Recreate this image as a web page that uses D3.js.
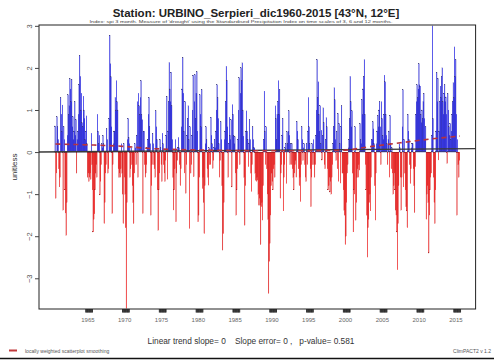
<!DOCTYPE html>
<html>
<head>
<meta charset="utf-8">
<script src="https://cdn.jsdelivr.net/npm/d3@7/dist/d3.min.js"></script>
<style>
  body { margin: 0; background: #fff; }
  svg { display: block; font-family: "Liberation Sans", Arial, sans-serif; }
</style>
</head>
<body>
<svg id="chart" width="494" height="362"></svg>
<script>
// spi 3 mesi, urbino serpieri, valori mensili da dic 1960
const FIRST_YEAR = 1961; // indice 1 = gennaio 1961, indice 0 = dicembre 1960
const spi = [
  0.62,
  -1.1, -0.5, 0.84, 0.6, 0.3, -0.4, -0.83, -0.6, 1.3, 0.9, 0.5, 1.12,        // 1961
  -1.38, 0.6, 0.3, -0.9, -1.45, -1.98, -1.2, 0.4, 1.36, 0.9, 1.1, 1.75,      // 1962
  1.5, 1.2, 1.72, 0.6, 0.84, 0.3, 0.5, 1.2, 0.4, 0.77, -0.5, 0.3,            // 1963
  0.5, 0.9, 1.6, 2.3, 1.8, 1.0, 1.4, 0.7, 0.6, 1.33, 1.0, 0.8,               // 1964
  0.3, 0.5, 0.86, 0.2, -0.6, -0.5, -0.7, -0.6, -0.5, -0.65, 0.45, -0.3,      // 1965
  -0.9, -1.9, -1.6, -1.47, -0.9, -0.5, -0.3, -0.6, 0.9, 0.5, 0.2, 0.4,       // 1966
  -1.02, -0.7, -0.3, 0.2, 0.1, 0.4, 0.2, -1.7, -1.2, -0.5, -0.3, 0.55,       // 1967
  0.3, -0.5, -0.4, 0.8, 2.78, 2.1, 1.79, 0.6, -1.46, -0.3, 0.2, 0.5,         // 1968
  0.5, 1.3, 1.0, 1.7, 1.2, 1.0, -0.4, -0.6, -0.5, -0.6, -0.4, 0.2,           // 1969
  -0.5, -1.0, -1.7, 0.2, -0.6, -1.0, -1.8, -3.72, -1.2, 0.3, 0.8, 0.35,      // 1970
  0.2, -0.6, -0.4, 0.1, -0.3, -0.8, -1.2, -1.7, -0.5, 0.2, 0.1, -0.3,        // 1971
  0.4, 1.2, -0.6, 1.4, 1.1, 0.9, 1.3, 1.7, 0.9, 0.77, -1.46, 0.5,            // 1972
  0.5, -0.3, -0.6, -0.5, -0.3, 0.1, 0.3, 0.9, 1.3, 0.6, 0.2, -1.5,           // 1973
  -0.8, -0.3, 0.45, 0.2, -0.3, -0.4, -0.6, 0.98, 0.6, 0.3, -0.9, -1.86,      // 1974
  -0.9, -0.5, 0.3, 0.1, -0.3, -0.7, 0.45, 0.2, -0.3, -0.5, -0.7, -0.2,       // 1975
  0.4, 1.33, -0.65, 0.5, 1.2, 2.13, 1.5, 1.2, 1.9, 1.1, 0.3, -0.6,           // 1976
  -1.38, -0.9, -0.4, 0.3, -1.66, -0.5, -0.2, 0.1, 0.35, 0.1, -0.3, -0.8,     // 1977
  -0.4, 0.6, 1.5, 2.25, 1.4, 0.5, -0.5, 1.2, -0.98, -0.3, 0.4, 0.8,          // 1978
  1.1, 0.3, -1.82, 0.6, -0.5, -0.3, 0.4, 1.0, 1.83, -0.59, 1.2, 1.84,        // 1979
  0.8, 1.4, 1.91, 0.5, -1.66, -1.5, -0.6, 1.36, 0.9, 0.6, 1.48, -0.87,       // 1980
  -0.6, -1.2, -1.94, -0.8, 0.2, 0.6, 0.3, -0.4, -0.6, -0.79, 0.1, -0.3,      // 1981
  -0.3, 0.83, 0.4, 0.2, -0.39, -0.2, 0.1, 0.3, 0.1, 0.5, 1.0, 1.6,           // 1982
  1.3, 0.8, 0.2, -0.6, -0.2, 0.72, 0.3, -0.8, -2.33, -1.94, -1.2, 0.3,       // 1983
  0.5, 1.2, 2.04, 1.71, 0.6, -0.6, 0.2, 0.83, 0.4, 0.3, 0.77, -0.83,         // 1984
  1.13, 0.9, 0.4, 0.2, 0.36, -0.5, -1.5, -0.9, -0.4, 0.3, 1.0, 1.77,         // 1985
  -0.3, 1.4, 2.0, 1.7, 2.12, 1.0, 0.38, -0.6, -1.74, -0.8, 0.5, 0.98,        // 1986
  0.5, 0.3, -0.35, 0.2, 0.77, 0.3, -0.5, -0.94, -0.3, 0.6, 0.3, 0.1,         // 1987
  0.1, -0.5, -0.67, -0.7, -0.6, -0.67, -1.0, -1.26, -1.1, -1.26, -2.2, -1.3, // 1988
  -1.2, -1.62, -0.8, 0.3, 1.45, 0.5, -0.3, 0.6, -0.4, -1.0, -1.6, -3.36,     // 1989
  -2.6, -2.17, -1.5, -0.8, -0.5, -0.7, -0.9, -0.4, -0.3, -0.6, 1.1, 0.8,     // 1990
  0.3, 0.9, 1.2, 1.7, 0.9, 1.48, -1.1, -0.5, -0.3, 0.4, 0.8, -1.4,           // 1991
  -0.6, -0.3, 0.1, 0.2, -0.75, 0.48, 0.2, 0.5, 0.98, 0.4, -0.3, 0.2,         // 1992
  -0.3, 0.2, -0.4, -0.6, -0.9, -0.5, -0.3, -0.2, -0.6, 0.73, 0.5, 0.3,       // 1993
  -0.4, -0.8, -0.6, -1.18, -0.3, 0.6, 0.3, -0.2, 0.1, 0.2, -0.3, -0.6,       // 1994
  -0.7, 0.2, -0.3, 0.5, 1.3, 0.6, 0.2, -0.4, -1.3, -0.6, 0.2, -0.3,          // 1995
  0.3, -0.3, -0.6, -0.3, 0.4, 1.0, 2.2, 1.3, 1.67, 0.9, 0.5, 1.1,            // 1996
  0.2, 0.52, -0.19, 0.4, 1.05, 0.7, -0.3, -0.4, 0.3, 0.82, 0.6, -0.4,        // 1997
  -0.9, -0.8, -0.6, -0.95, -0.7, -1.0, -0.6, -0.3, 0.2, 0.6, 1.53, 1.24,     // 1998
  0.3, -0.2, 0.5, -0.4, 0.92, -0.7, 0.68, 0.2, -0.74, 0.6, 1.1, -0.5,        // 1999
  -0.5, -0.9, -1.38, -1.5, -2.2, -2.0, -1.2, -0.5, -0.3, 0.1, 0.3, 0.8,      // 2000
  1.8, 1.2, 0.6, 0.98, -0.5, -1.9, -0.9, -1.0, 0.6, -1.62, -1.2, -0.6,       // 2001
  -0.4, -0.6, -0.3, -0.43, 0.68, 0.3, 0.2, 1.25, 0.9, 1.5, 1.8, 2.2,         // 2002
  0.9, -0.3, -0.9, -1.5, -2.5, -1.8, -1.6, -1.2, -1.0, -1.4, -0.6, 0.3,      // 2003
  0.3, 0.72, 0.55, 0.2, -0.8, -1.62, -0.5, 0.2, 0.5, 0.87, 0.6, 1.0,         // 2004
  1.2, 0.6, -0.3, 1.2, 0.8, 0.4, 0.3, 0.9, 1.83, 1.67, 0.9, 0.4,             // 2005
  0.2, -0.3, 0.3, 0.5, -0.6, 0.87, 0.2, -0.4, 0.1, -0.5, -1.0, -0.8,         // 2006
  -0.5, -0.9, -1.38, -1.5, -1.9, -2.8, -1.7, -0.8, 0.2, 0.1, -0.6, -1.38,    // 2007
  -0.6, 0.6, 1.48, -0.83, 0.3, -0.5, -0.9, -1.3, -1.4, -1.8, 0.9, 0.5,       // 2008
  0.3, -0.3, -0.75, -0.4, 0.1, 0.2, 0.2, -0.4, -0.8, -1.44, -0.35, 0.9,      // 2009
  1.2, 1.6, 1.3, 1.5, 2.1, 1.6, 1.57, 0.9, 0.7, 1.0, 0.8, 1.2,               // 2010
  1.4, 0.8, 0.3, 0.6, -1.6, -1.0, -0.8, -1.2, -2.4, -1.5, -0.9, -0.6,        // 2011
  -0.5, 0.4, 3.0, 0.8, -0.6, -1.2, -1.7, -0.9, 0.5, 1.9, 1.2, 1.75,          // 2012
  -0.19, 0.5, 1.2, 1.57, 1.3, 1.8, 2.0, 1.2, 0.9, 1.4, 1.6, 1.2,             // 2013
  1.31, 0.9, -0.27, 1.39, 1.0, 0.6, 0.4, 0.68, 0.3, 0.5, 0.9, 1.2,           // 2014
  1.65, 1.3, 2.5, 1.8, 2.19, 0.9, -1.5, 0.3, -0.3, -0.6, -0.2                // 2015
];

// lowess (tratteggiata) letta a occhio, anni decimali
const lowessYears = [1960.95, 1965.6, 1970.7, 1973.4, 1980.6, 1991.5, 1999.7, 2003.7, 2007.8, 2011.9, 2015.9];
const lowessValues = [0.19, 0.17, 0.13, 0.09, 0.05, 0.03, 0.04, 0.13, 0.22, 0.31, 0.38];

// retta di tendenza lineare: valore al primo e all'ultimo mese
const trendEnds = [0.005, 0.08];

const yearTicks = [1965, 1970, 1975, 1980, 1985, 1990, 1995, 2000, 2005, 2010, 2015];
const yTicks = [-3, -2, -1, 0, 1, 2, 3];

const TITLE = "Station: URBINO_Serpieri_dic1960-2015 [43°N, 12°E]";
const SUBTITLE = "Index: spi 3 month. Measure of 'drought' using the Standardised Precipitation Index on time scales of 3, 6 and 12 months.";
const FOOTER = "Linear trend slope= 0    Slope error= 0 ,   p-value= 0.581";
const LEGEND = "locally weighted scatterplot smoothing";
const CREDIT = "ClimPACT2 v 1.2";

const PLOT = { left: 39, right: 475.6, top: 25, bottom: 309 };

const svg = d3.select("#chart");
const n = spi.length;
const last = n - 1;

// R allarga il dominio del 4% per lato
const x = d3.scaleLinear().domain([-0.04 * last, 1.04 * last]).range([PLOT.left, PLOT.right]);
const y = d3.scaleLinear().domain([-3.73, 3.02]).range([PLOT.bottom, PLOT.top]);

const monthIndex = (year, m) => (year - FIRST_YEAR) * 12 + 1 + m;
const decimalIndex = (t) => (t - FIRST_YEAR) * 12 + 1;

svg.append("rect").attr("width", 494).attr("height", 362).attr("fill", "#fff");

svg.append("defs").append("clipPath").attr("id", "plotClip")
  .append("rect")
  .attr("x", PLOT.left).attr("y", PLOT.top)
  .attr("width", PLOT.right - PLOT.left).attr("height", PLOT.bottom - PLOT.top);

const plot = svg.append("g").attr("clip-path", "url(#plotClip)");

const barW = x(1) - x(0);
plot.append("g")
  .selectAll("rect")
  .data(spi)
  .join("rect")
  .attr("x", (d, i) => x(i) - barW / 2)
  .attr("width", barW)
  .attr("y", (d) => y(Math.max(0, d)))
  .attr("height", (d) => Math.abs(y(d) - y(0)))
  .attr("fill", (d) => (d >= 0 ? "#0000ff" : "#ff0000"))
  .attr("stroke", (d) => (d >= 0 ? "#3a3a70" : "#a02020"))
  .attr("stroke-width", 0.15);

// tendenza lineare estesa da bordo a bordo come abline
const slope = (trendEnds[1] - trendEnds[0]) / last;
const trendAt = (i) => trendEnds[0] + slope * i;
const [d0, d1] = x.domain();
plot.append("line")
  .attr("x1", x(d0)).attr("y1", y(trendAt(d0)))
  .attr("x2", x(d1)).attr("y2", y(trendAt(d1)))
  .attr("stroke", "#3a3a3a")
  .attr("stroke-width", 1.3);

const lowessLine = d3.line()
  .x((d) => x(decimalIndex(d[0])))
  .y((d) => y(d[1]))
  .curve(d3.curveMonotoneX);
plot.append("path")
  .datum(lowessYears.map((t, i) => [t, lowessValues[i]]))
  .attr("d", lowessLine)
  .attr("fill", "none")
  .attr("stroke", "#b8323c")
  .attr("stroke-width", 1.6)
  .attr("stroke-dasharray", "5 4");

// cornice del grafico
svg.append("rect")
  .attr("x", PLOT.left).attr("y", PLOT.top)
  .attr("width", PLOT.right - PLOT.left).attr("height", PLOT.bottom - PLOT.top)
  .attr("fill", "none").attr("stroke", "#222").attr("stroke-width", 1);

// asse y con etichette ruotate stile R
const yAxisG = svg.append("g")
  .attr("transform", `translate(${PLOT.left},0)`)
  .call(d3.axisLeft(y).tickValues(yTicks).tickSize(4).tickPadding(6).tickFormat(d3.format("d")));
yAxisG.select(".domain").remove();
yAxisG.selectAll("line").attr("stroke", "#444");
yAxisG.selectAll("text")
  .attr("fill", "#555")
  .attr("font-size", 7.5)
  .attr("text-anchor", "middle")
  .attr("dy", null)
  .attr("x", null)
  .attr("transform", "translate(-9,0) rotate(-90)")
  .attr("dominant-baseline", "middle");

// asse x: un trattino per ogni mese dell'anno etichettato
const monthTicks = yearTicks.flatMap((yr) => d3.range(12).map((m) => monthIndex(yr, m)));
const xTickG = svg.append("g")
  .attr("transform", `translate(0,${PLOT.bottom})`)
  .call(d3.axisBottom(x).tickValues(monthTicks).tickSize(3.5).tickFormat(""));
xTickG.select(".domain").remove();
xTickG.selectAll("line").attr("stroke", "#222").attr("stroke-width", 0.9);

const xLabelG = svg.append("g")
  .attr("transform", `translate(0,${PLOT.bottom})`)
  .call(d3.axisBottom(x)
    .tickValues(yearTicks.map((yr) => monthIndex(yr, 3.5)))
    .tickSize(0)
    .tickPadding(9)
    .tickFormat((d, i) => yearTicks[i]));
xLabelG.select(".domain").remove();
xLabelG.selectAll("text").attr("fill", "#666").attr("font-size", 6);

// titoli e testi
svg.append("text")
  .attr("x", 256).attr("y", 17)
  .attr("text-anchor", "middle")
  .attr("font-size", 11.5).attr("font-weight", "bold").attr("fill", "#222")
  .text(TITLE);
svg.append("text")
  .attr("x", 241).attr("y", 23.3)
  .attr("text-anchor", "middle")
  .attr("font-size", 4.4).attr("fill", "#444")
  .attr("textLength", 303)
  .attr("lengthAdjust", "spacingAndGlyphs")
  .text(SUBTITLE);

svg.append("text")
  .attr("transform", `translate(17,${(PLOT.top + PLOT.bottom) / 2}) rotate(-90)`)
  .attr("text-anchor", "middle")
  .attr("font-size", 8).attr("fill", "#333")
  .text("unitless");

svg.append("text")
  .attr("x", 251).attr("y", 344)
  .attr("text-anchor", "middle")
  .attr("font-size", 8.3).attr("fill", "#333")
  .attr("xml:space", "preserve")
  .style("white-space", "pre")
  .text(FOOTER);

svg.append("line")
  .attr("x1", 9).attr("x2", 17).attr("y1", 350.5).attr("y2", 350.5)
  .attr("stroke", "#c0393b").attr("stroke-width", 2);
svg.append("text")
  .attr("x", 25).attr("y", 352.5)
  .attr("font-size", 5).attr("fill", "#555")
  .text(LEGEND);
svg.append("text")
  .attr("x", 491).attr("y", 352.5)
  .attr("text-anchor", "end")
  .attr("font-size", 5).attr("fill", "#555")
  .text(CREDIT);

svg.append("line")
  .attr("x1", 0).attr("x2", 494).attr("y1", 358.5).attr("y2", 358.5)
  .attr("stroke", "#111").attr("stroke-width", 1.5);
</script>
</body>
</html>
